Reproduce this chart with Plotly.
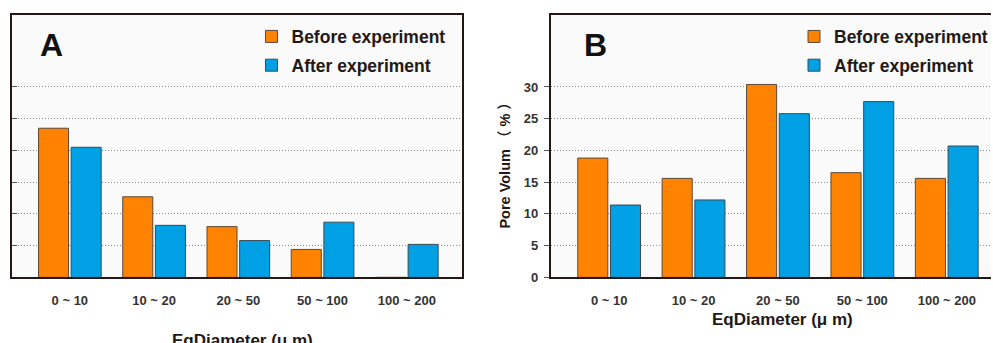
import plotly.graph_objects as go
from plotly.subplots import make_subplots

categories = ["0 ~ 10", "10 ~ 20", "20 ~ 50", "50 ~ 100", "100 ~ 200"]
a_before = [23.5, 12.7, 8.0, 4.4, 0.0]
a_after = [20.5, 8.2, 5.8, 8.7, 5.2]
b_before = [18.8, 15.6, 30.4, 16.5, 15.6]
b_after = [11.4, 12.2, 25.8, 27.7, 20.7]
y_ticks = [0, 5, 10, 15, 20, 25, 30]
series_names = ["Before experiment", "After experiment"]

W, H = 993, 343
ORANGE = "#FF8200"
BLUE = "#00A0E4"
FRAME = "#231815"
FONT = "Liberation Sans, Arial, sans-serif"

def px_x(v):
    return v / W

def px_y(v):
    return 1 - v / H

fig = make_subplots(rows=1, cols=2)

for col, (bef, aft, lg) in enumerate([(a_before, a_after, "legend"), (b_before, b_after, "legend2")], start=1):
    fig.add_trace(go.Bar(x=categories, y=bef, name=series_names[0], marker_color=ORANGE,
                         marker_line=dict(color="#5a4a3a", width=1), legend=lg,
                         legendgroup="b" + lg), row=1, col=col)
    fig.add_trace(go.Bar(x=categories, y=aft, name=series_names[1], marker_color=BLUE,
                         marker_line=dict(color="#3a4a55", width=1), legend=lg,
                         legendgroup="a" + lg), row=1, col=col)

ydom = [px_y(284), px_y(15)]
common_x = dict(showline=True, linewidth=2.2, linecolor=FRAME, mirror=True, showgrid=False,
                ticks="", tickfont=dict(family=FONT, size=13, color="#333333", weight="bold"),
                ticklabelstandoff=10)
fig.update_xaxes(domain=[px_x(12), px_x(463)], range=[-0.687, 4.656], row=1, col=1, **common_x)
fig.update_xaxes(domain=[px_x(552), 1.0], range=[-0.69, 4.524], row=1, col=2, **common_x)

common_y = dict(range=[0, 41.4], tickvals=y_ticks, showgrid=True, gridcolor="#8a8a8a",
                griddash="1px,2px", gridwidth=1, zeroline=False, showline=True, linewidth=2.2,
                linecolor=FRAME, tickcolor="#555555", ticklen=5, tickwidth=1,
                tickfont=dict(family=FONT, size=13, color="#333333", weight="bold"))
fig.update_yaxes(domain=ydom, row=1, col=1, mirror=True, ticks="inside", showticklabels=False, **common_y)
fig.update_yaxes(domain=ydom, row=1, col=2, mirror=False, ticks="outside", ticklabelstandoff=3, **common_y)

legend_common = dict(font=dict(family=FONT, size=17.5, color="#231815", weight="bold"),
                     bgcolor="rgba(0,0,0,0)", borderwidth=0, tracegroupgap=3,
                     xanchor="left", yanchor="top", itemwidth=30, traceorder="grouped")
fig.update_layout(
    width=W, height=H, margin=dict(l=0, r=0, t=0, b=0),
    paper_bgcolor="#ffffff", plot_bgcolor="#fafafa",
    bargap=0.225, bargroupgap=0.08, barmode="group",
    legend=dict(x=px_x(252), y=px_y(19), **legend_common),
    legend2=dict(x=px_x(796), y=px_y(19), **legend_common),
)

def ann(text, x, y, font, angle=0):
    fig.add_annotation(text=text, x=px_x(x), y=px_y(y), xref="paper", yref="paper",
                       xanchor="center", yanchor="middle", showarrow=False,
                       textangle=angle, font=font)

ann_font = dict(family=FONT, size=17, color="#231815", weight="bold")
big_font = dict(family=FONT, size=32, color="#111111", weight="bold")
ann("A", 51.5, 46.5, big_font)
ann("B", 597, 46.5, big_font)
ann("EqDiameter (μ m)", 243, 349, ann_font)
ann("EqDiameter (μ m)", 784, 327, ann_font)
ann("Pore Volum （ % ）", 506.5, 166, dict(family=FONT + ", Noto Sans CJK SC", size=14.5,
                                          color="#231815", weight="bold"), angle=-90)

fig.write_html("out.html")
